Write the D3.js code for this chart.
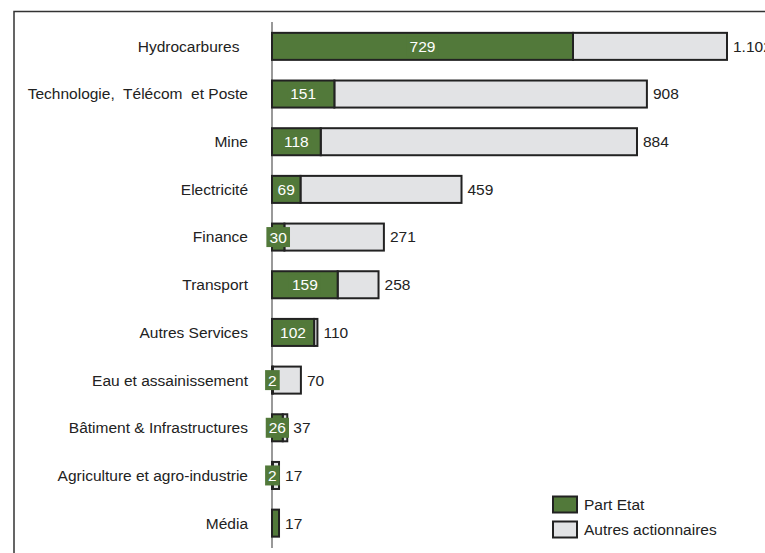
<!DOCTYPE html>
<html>
<head>
<meta charset="utf-8">
<script src="https://cdn.jsdelivr.net/npm/d3@7"></script>
<style>
  body { margin: 0; background: #fff; }
  svg { display: block; font-family: "Liberation Sans", Arial, sans-serif; }
</style>
</head>
<body>
<svg></svg>
<script>
let sectors = ["Hydrocarbures  ", "Technologie,  Télécom  et Poste", "Mine", "Electricité", "Finance",
  "Transport", "Autres Services", "Eau et assainissement", "Bâtiment & Infrastructures",
  "Agriculture et agro-industrie", "Média"];
let partEtat = [729, 151, 118, 69, 30, 159, 102, 2, 26, 2, 17];
let totals = [1102, 908, 884, 459, 271, 258, 110, 70, 37, 17, 17];
let etatLabels = ["729", "151", "118", "69", "30", "159", "102", "2", "26", "2", ""];
let legendNames = ["Part Etat", "Autres actionnaires"];

let w = 765;
let h = 553;
let fs = 15.5;
let green = '#52793a';
let grey = '#e2e3e5';
let ink = '#222';

let svg = d3.select('svg').attr('width', w).attr('height', h);

// frame (only top and left edges are visible in the picture)
svg.append('path')
   .attr('d', 'M14,' + h + ' V11.5 H' + w)
   .attr('fill', 'none')
   .attr('stroke', '#333')
   .attr('stroke-width', 1.5);

let rows = sectors.map((s, i) => ({ name: s, etat: partEtat[i], total: totals[i], lab: etatLabels[i] }));

let xSc = d3.scaleLinear()
            .domain([0, d3.max(totals)])
            .range([272, 727]);

let ySc = d3.scaleBand()
            .domain(sectors)
            .range([12.2, 557.3])
            .paddingInner(0.433)
            .paddingOuter(0.433);

let fmt = d3.formatLocale({ decimal: ',', thousands: '.', grouping: [3], currency: ['', ''] }).format(',d');

// category axis line
svg.append('line')
   .attr('x1', 272).attr('x2', 272)
   .attr('y1', 22).attr('y2', 548)
   .attr('stroke', '#777')
   .attr('stroke-width', 1.5);

// category labels
svg.selectAll('text.cat')
   .data(rows)
   .enter()
   .append('text')
   .attr('class', 'cat')
   .attr('x', 248)
   .attr('y', d => ySc(d.name) + ySc.bandwidth() / 2)
   .attr('dy', '0.35em')
   .attr('text-anchor', 'end')
   .attr('font-size', fs)
   .attr('fill', ink)
   .style('white-space', 'pre')
   .text(d => d.name);

let bars = svg.selectAll('g.bar')
              .data(rows)
              .enter()
              .append('g')
              .attr('class', 'bar');

// other shareholders segment
bars.append('rect')
    .attr('x', d => xSc(d.etat))
    .attr('y', d => ySc(d.name))
    .attr('width', d => Math.max(0, xSc(d.total) - xSc(d.etat)))
    .attr('height', ySc.bandwidth())
    .attr('fill', grey)
    .attr('stroke', ink)
    .attr('stroke-width', 2);

// state segment
bars.append('rect')
    .attr('x', xSc(0))
    .attr('y', d => ySc(d.name))
    .attr('width', d => xSc(d.etat) - xSc(0))
    .attr('height', ySc.bandwidth())
    .attr('fill', green)
    .attr('stroke', ink)
    .attr('stroke-width', 2);

// state value labels (green box behind white text)
let lab = bars.filter(d => d.lab !== '').append('g')
              .attr('transform', d => 'translate(' + ((xSc(0) + xSc(d.etat)) / 2) + ',' + (ySc(d.name) + ySc.bandwidth() / 2) + ')');

lab.append('text')
   .attr('text-anchor', 'middle')
   .attr('dy', '0.35em')
   .attr('font-size', fs)
   .attr('fill', '#fff')
   .text(d => d.lab)
   .each(function () {
     let bb = this.getBBox();
     d3.select(this.parentNode).insert('rect', 'text')
       .attr('x', -bb.width / 2 - 3)
       .attr('y', -10)
       .attr('width', bb.width + 6)
       .attr('height', 20)
       .attr('fill', green);
   });

// totals
bars.append('text')
    .attr('x', d => xSc(d.total) + 6)
    .attr('y', d => ySc(d.name) + ySc.bandwidth() / 2)
    .attr('dy', '0.35em')
    .attr('font-size', fs)
    .attr('fill', ink)
    .text(d => fmt(d.total));

// legend
let leg = svg.selectAll('g.leg')
             .data(legendNames)
             .enter()
             .append('g')
             .attr('class', 'leg')
             .attr('transform', (d, i) => 'translate(553,' + (496.5 + i * 25) + ')');

leg.append('rect')
   .attr('width', 24)
   .attr('height', 16)
   .attr('fill', (d, i) => i === 0 ? green : grey)
   .attr('stroke', ink)
   .attr('stroke-width', 2);

leg.append('text')
   .attr('x', 31)
   .attr('y', 8)
   .attr('dy', '0.35em')
   .attr('font-size', fs)
   .attr('fill', ink)
   .text(d => d);
</script>
</body>
</html>
